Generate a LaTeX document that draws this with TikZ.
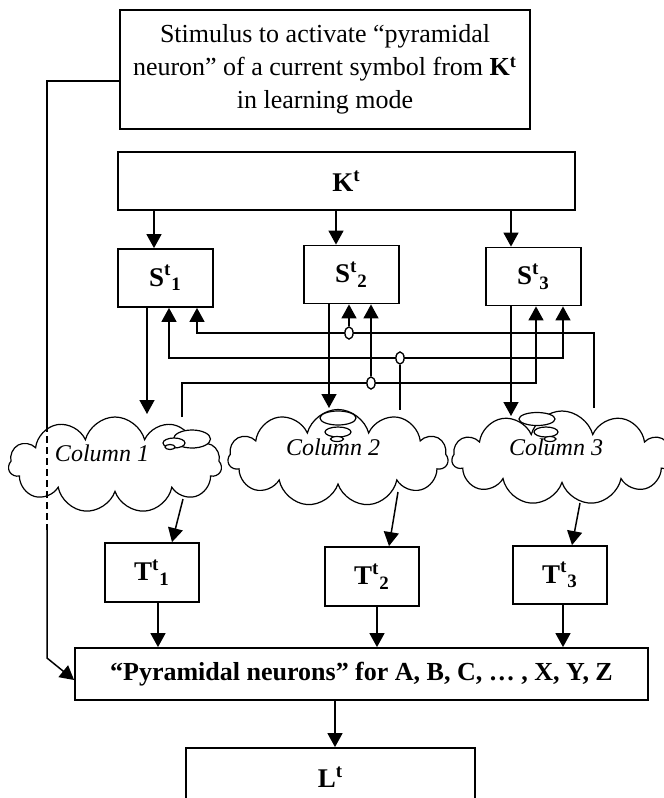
\documentclass[tikz,border=0pt]{standalone}
\usepackage{fontspec}
\setmainfont{Liberation Serif}
\usetikzlibrary{arrows.meta,shapes.symbols,shapes.geometric}

\begin{document}
\begin{tikzpicture}[x=0.5pt,y=-0.5pt,
    box/.style={draw,line width=0.9pt,minimum width=47.5pt,minimum height=29pt,inner sep=0pt,font=\fontsize{13.5}{16}\selectfont\bfseries},
    cloudy/.style={cloud,cloud puffs=11,cloud ignores aspect,draw,fill=white,line width=0.6pt,inner sep=0pt},
    coltext/.style={font=\fontsize{12}{14}\selectfont\itshape,inner sep=0pt},
    bubble/.style={draw,fill=white,line width=0.6pt},
    jct/.style={ellipse,draw,fill=white,line width=0.6pt,minimum width=4pt,minimum height=6pt,inner sep=0pt},
    wire/.style={line width=0.75pt},
    arr/.style={wire,-{Triangle[width=7.5pt,length=7pt]}},
    twoarr/.style={wire,{Triangle[width=7.5pt,length=7pt]}-{Triangle[width=7.5pt,length=7pt]}}]

  \useasboundingbox (0,0) rectangle (664,798);

  \node[draw,line width=0.9pt,minimum width=205pt,minimum height=59.5pt,align=center,
        font=\fontsize{13}{16.5}\selectfont] (stim) at (325,69.5)
       {Stimulus to activate “pyramidal\\ neuron” of a current symbol from \textbf{K\textsuperscript{t}}\\ in learning mode};
  \node[box,minimum width=228.5pt] (kbox) at (346.5,181) {K\textsuperscript{t}};
  \node[box] (s1) at (165.5,278) {S\textsuperscript{t}\textsubscript{1}};
  \node[box] (s2) at (351.5,274.5) {S\textsuperscript{t}\textsubscript{2}};
  \node[box] (s3) at (533.5,276.5) {S\textsuperscript{t}\textsubscript{3}};

  \node[cloudy,minimum width=106.5pt,minimum height=48pt] (c1) at (115,465) {};
  \node[cloudy,minimum width=110pt,minimum height=48.5pt] (c2) at (338,458) {};
  \node[cloudy,minimum width=110pt,minimum height=47pt] (c3) at (562,458) {};
  \draw[bubble] (192,439) ellipse (9.25pt and 4.5pt);
  \draw[bubble] (174,443) ellipse (5.5pt and 2.5pt);
  \draw[bubble] (170,447) ellipse (2.5pt and 1.25pt);
  \draw[bubble] (338,418) ellipse (9pt and 3.5pt);
  \draw[bubble] (338,432) ellipse (6.5pt and 2.5pt);
  \draw[bubble] (337,439) ellipse (3.25pt and 1.25pt);
  \draw[bubble] (537,419) ellipse (9pt and 3.25pt);
  \draw[bubble] (546,432) ellipse (6pt and 2.5pt);
  \draw[bubble] (550,439) ellipse (3pt and 1.25pt);
  \node[coltext] (c1lbl) at (102,453) {Column 1};
  \node[coltext] (c2lbl) at (333,447) {Column 2};
  \node[coltext] (c3lbl) at (556,447) {Column 3};

  \node[box,minimum width=47pt,minimum height=29.5pt] (t1) at (152,572.5) {T\textsuperscript{t}\textsubscript{1}};
  \node[box,minimum width=47pt,minimum height=29.5pt] (t2) at (372,576.5) {T\textsuperscript{t}\textsubscript{2}};
  \node[box,minimum width=47pt,minimum height=29pt] (t3) at (560,575) {T\textsuperscript{t}\textsubscript{3}};
  \node[box,minimum width=286.5pt,minimum height=26pt,font=\fontsize{13}{15}\selectfont\bfseries] (pyr) at (361.5,674)
       {“Pyramidal neurons” for A, B, C, … , X, Y, Z};
  \node[box,minimum width=144.5pt,minimum height=29pt] (lbox) at (330.5,777) {L\textsuperscript{t}};

  \coordinate (kx1) at (154,0);
  \coordinate (kx2) at (336,0);
  \coordinate (kx3) at (511,0);
  \coordinate (c1in) at (147,414);
  \coordinate (c2in) at (329,408);
  \coordinate (c3in) at (511,416);
  \coordinate (c1out) at (183,499);
  \coordinate (c2out) at (398,492);
  \coordinate (c3out) at (580,503);
  \coordinate (c1up) at (182,417);
  \coordinate (c2up) at (400,410);
  \coordinate (c3up) at (594,408);
  \coordinate (tx1) at (172,0);
  \coordinate (tx2) at (389,0);
  \coordinate (tx3) at (572,0);
  \coordinate (px1) at (158,0);
  \coordinate (px2) at (377,0);
  \coordinate (px3) at (563,0);
  \coordinate (lx) at (335,0);
  \coordinate (r1) at (197,0);
  \coordinate (l1) at (169,0);
  \coordinate (r3) at (563,0);
  \coordinate (l3) at (536,0);
  \coordinate (lt) at (47,81);
  \coordinate (dtop) at (47,425);
  \coordinate (dbot) at (47,530);
  \coordinate (bend) at (47,658);
  \coordinate (ain) at (0,680);

  \draw[arr] (kbox.south -| kx1) -- (s1.north -| kx1);
  \draw[arr] (kbox.south -| kx2) -- (s2.north -| kx2);
  \draw[arr] (kbox.south -| kx3) -- (s3.north -| kx3);
  \draw[arr] (s1.south -| c1in) -- (c1in);
  \draw[arr] (s2.south -| c2in) -- (c2in);
  \draw[arr] (s3.south -| c3in) -- (c3in);

  \node[jct] (j1) at (349,333) {};
  \node[jct] (j2) at (400,358) {};
  \node[jct] (j3) at (371,383) {};
  \draw[arr] (c3up) -- (c3up |- j1) -- (r1 |- j1) -- (s1.south -| r1);
  \draw[twoarr] (s1.south -| l1) -- (l1 |- j2) -- (r3 |- j2) -- (s3.south -| r3);
  \draw[arr] (c1up) -- (c1up |- j3) -- (l3 |- j3) -- (s3.south -| l3);
  \draw[wire] (j2) -- (c2up);
  \draw[arr] (j1) -- (s2.south -| j1);
  \draw[arr] (j3) -- (s2.south -| j3);
  \node[jct] at (j1) {};
  \node[jct] at (j2) {};
  \node[jct] at (j3) {};

  \draw[arr] (c1out) -- (t1.north -| tx1);
  \draw[arr] (c2out) -- (t2.north -| tx2);
  \draw[arr] (c3out) -- (t3.north -| tx3);
  \draw[arr] (t1.south -| px1) -- (pyr.north -| px1);
  \draw[arr] (t2.south -| px2) -- (pyr.north -| px2);
  \draw[arr] (t3.south -| px3) -- (pyr.north -| px3);
  \draw[arr] (pyr.south -| lx) -- (lbox.north -| lx);

  \draw[wire] (stim.west |- lt) -- (lt) -- (dtop);
  \draw[wire,dash pattern=on 3.5pt off 2pt] (dtop) -- (dbot);
  \draw[arr] (dbot) -- (bend) -- (pyr.west |- ain);
\end{tikzpicture}
\end{document}
